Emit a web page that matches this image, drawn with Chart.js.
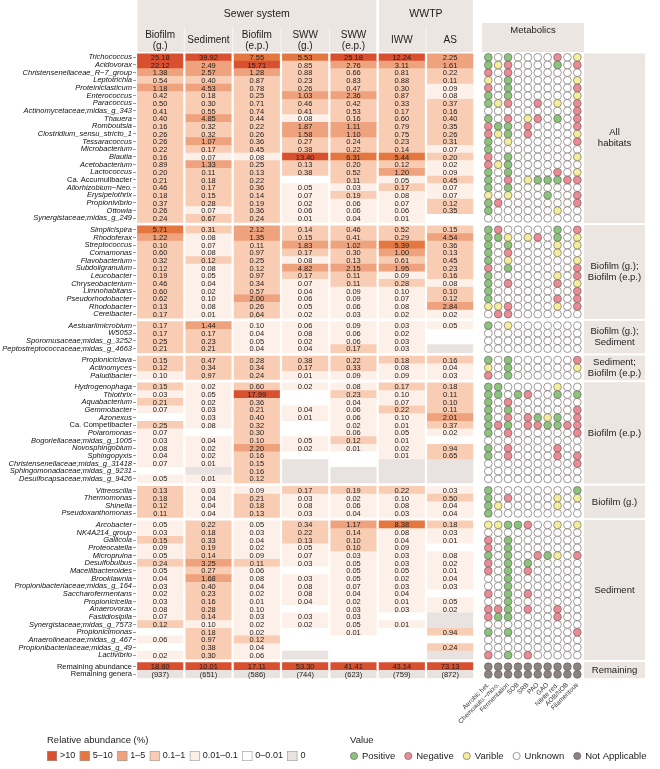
<!DOCTYPE html>
<html><head><meta charset="utf-8">
<script src="https://cdn.jsdelivr.net/npm/chart.js@4.4.1/dist/chart.umd.min.js"></script>
<style>html,body{margin:0;padding:0;background:#fff;}canvas{display:block;}</style>
</head><body><canvas id="c" width="660" height="769"></canvas>
<script>
// ---------------- DATA ----------------
const columns = ['Biofilm\n(g.)','Sediment','Biofilm\n(e.p.)','SWW\n(g.)','SWW\n(e.p.)','IWW','AS'];
const habitats = [{label:'Sewer system', first:0, last:4},{label:'WWTP', first:5, last:6}];
const groupLabels = ['All\nhabitats','Biofilm (g.);\nBiofilm (e.p.)','Biofilm (g.);\nSediment','Sediment;\nBiofilm (e.p.)','Biofilm (e.p.)','Biofilm (g.)','Sediment','Remaining'];
const groupSizes = [22,12,4,3,13,4,18,2];
const rowLabels = [
 'Trichococcus','Acidovorax','Christensenellaceae_R\u22127_group','Leptotrichia','Proteiniclasticum','Enterococcus','Paracoccus','Actinomycetaceae;midas_g_343','Thauera','Romboutsia','Clostridium_sensu_stricto_1','Tessaracoccus','Microbacterium','Blautia','Acetobacterium','Lactococcus','Ca. Accumulibacter','Allorhizobium\u2212Neo.','Erysipelothrix','Propionivibrio','Ottowia','Synergistaceae;midas_g_249',
 'Simplicispira','Rhodoferax','Streptococcus','Comamonas','Flavobacterium','Subdoligranulum','Leucobacter','Chryseobacterium','Limnohabitans','Pseudorhodobacter','Rhodobacter','Cereibacter',
 'Aestuariimicrobium','W5053','Sporomusaceae;midas_g_3252','Peptostreptococcaceae;midas_g_4663',
 'Propioniciclava','Actinomyces','Paludibacter',
 'Hydrogenophaga','Thiothrix','Aquabacterium','Gemmobacter','Azonexus','Ca. Competibacter','Polaromonas','Bogoriellaceae;midas_g_1005','Novosphingobium','Sphingopyxis','Christensenellaceae;midas_g_31418','Sphingomonadaceae;midas_g_9231','Desulfocapsaceae;midas_g_9426',
 'Vitreoscilla','Thermomonas','Shinella','Pseudoxanthomonas',
 'Arcobacter','NK4A214_group','Gallicola','Proteocatella','Micropruina','Desulfobulbus','Macellibacteroides','Brooklawnia','Propionibacteriaceae;midas_g_164','Saccharofermentans','Propionicicella','Anaerovorax','Fastidiosipila','Synergistaceae;midas_g_7573','Propionicimonas','Anaerolineaceae;midas_g_467','Propionibacteriaceae;midas_g_49','Lactivibrio',
 'Remaining abundance','Remaining genera'];
const uprightLabels = ['Ca. Accumulibacter','Ca. Competibacter','Remaining abundance','Remaining genera'];

// relative abundance (%) per column; 0 = absent, 0.004 = present but < 0.01
const biofilmG = [25.18,22.12,1.38,0.54,1.18,0.42,0.50,0.41,0.40,0.16,0.26,0.26,0.22,0.16,0.89,0.20,0.21,0.46,0.18,0.37,0.26,0.24,
 5.71,1.22,0.10,0.60,0.32,0.12,0.19,0.46,0.60,0.62,0.13,0.17,
 0.17,0.17,0.25,0.21,
 0.15,0.12,0.099,
 0.15,0.03,0.21,0.07,0.004,0.25,0.07,0.03,0.08,0.04,0.07,0.004,0.05,
 0.13,0.18,0.12,0.11,
 0.05,0.03,0.15,0.09,0.05,0.24,0.05,0.04,0.03,0.02,0.03,0.08,0.07,0.12,0.004,0.06,0.004,0.02,
 18.80];
const sediment = [39.92,2.49,2.57,0.40,4.53,0.18,0.30,0.55,4.85,0.32,0.32,1.07,0.17,0.07,1.33,0.11,0.18,0.17,0.15,0.28,0.07,0.67,
 0.31,0.08,0.07,0.08,0.12,0.08,0.05,0.04,0.02,0.099,0.08,0.01,
 1.44,0.17,0.23,0.21,
 0.47,0.34,0.97,
 0.02,0.05,0.02,0.03,0.03,0.08,0.004,0.04,0.02,0.02,0.01,0,0.01,
 0.03,0.04,0.04,0.04,
 0.22,0.18,0.33,0.19,0.14,3.25,0.27,1.68,0.40,0.23,0.16,0.28,0.14,0.099,0.18,0.97,0.38,0.30,
 10.01];
const biofilmEP = [7.55,15.71,1.28,0.87,0.78,0.25,0.71,0.74,0.44,0.22,0.26,0.36,0.45,0.08,0.25,0.13,0.22,0.36,0.14,0.19,0.36,0.24,
 2.12,1.35,0.11,0.97,0.25,0.12,0.97,0.34,0.57,2.00,0.26,0.64,
 0.099,0.04,0.05,0.04,
 0.28,0.34,0.24,
 0.60,17.99,0.36,0.21,0.40,0.32,0.30,0.10,2.20,0.16,0.15,0.16,0.12,
 0.09,0.21,0.18,0.13,
 0.05,0.03,0.04,0.02,0.09,0.11,0.06,0.08,0.04,0.02,0.01,0.099,0.03,0.02,0.02,0.12,0.04,0.06,
 17.11];
const swwG = [5.53,0.85,0.88,0.23,0.26,1.03,0.46,0.41,0.08,1.87,1.58,0.27,0.38,13.40,0.13,0.38,0.004,0.05,0.07,0.02,0.06,0.01,
 0.14,0.15,1.83,0.17,0.08,4.82,0.17,0.07,0.04,0.06,0.05,0.02,
 0.06,0.08,0.02,0.04,
 0.38,0.17,0.01,
 0.02,0.004,0.004,0.04,0.01,0.004,0.004,0.05,0.02,0.004,0,0,0,
 0.17,0.03,0.08,0.03,
 0.34,0.22,0.13,0.05,0.07,0.03,0.004,0.03,0.08,0.08,0.04,0.004,0.03,0.02,0.004,0.004,0.004,0,
 53.30];
const swwEP = [25.18,2.76,0.66,0.83,0.47,2.36,0.42,0.53,0.16,1.11,1.10,0.24,0.22,6.31,0.20,0.52,0.11,0.03,0.19,0.06,0.06,0.04,
 0.46,0.41,1.02,0.30,0.13,2.15,0.11,0.11,0.09,0.09,0.06,0.03,
 0.09,0.06,0.06,0.17,
 0.22,0.33,0.09,
 0.08,0.23,0.04,0.06,0.06,0.02,0.06,0.12,0.01,0.004,0.004,0,0,
 0.19,0.02,0.06,0.04,
 1.17,0.14,0.10,0.10,0.03,0.05,0.05,0.05,0.07,0.04,0.02,0.03,0.03,0.05,0.01,0.004,0.004,0.004,
 41.41];
const iww = [12.24,3.11,0.81,0.88,0.30,0.87,0.33,0.17,0.60,0.79,0.75,0.23,0.14,5.44,0.12,1.20,0.05,0.17,0.08,0.07,0.06,0.01,
 0.52,0.29,5.39,1.00,0.61,1.95,0.09,0.28,0.099,0.07,0.08,0.02,
 0.03,0.02,0.03,0.03,
 0.18,0.08,0.09,
 0.17,0.099,0.07,0.22,0.099,0.01,0.05,0.01,0.02,0.01,0,0,0,
 0.22,0.099,0.08,0.03,
 8.38,0.08,0.04,0.09,0.03,0.03,0.05,0.02,0.03,0.04,0.01,0.03,0.004,0.01,0.004,0.004,0.004,0.004,
 43.14];
const as = [2.25,1.61,0.22,0.11,0.09,0.08,0.37,0.16,0.40,0.35,0.26,0.31,0.07,0.20,0.02,0.09,0.45,0.07,0.07,0.12,0.35,0.004,
 0.15,4.54,0.36,0.13,0.45,0.23,0.16,0.08,0.10,0.12,2.84,0.02,
 0.05,0.004,0.004,0,
 0.16,0.04,0.03,
 0.18,0.11,0.10,0.11,2.01,0.37,0.02,0.004,0.94,0.65,0,0,0,
 0.03,0.50,0.04,0.04,
 0.18,0.03,0.01,0.004,0.08,0.02,0.01,0.04,0.03,0.004,0.05,0.02,0,0,0.94,0.004,0.24,0,
 73.13];
const remainingGenera = [937,651,586,744,623,759,872];
const columnValues = [biofilmG, sediment, biofilmEP, swwG, swwEP, iww, as];

const metabolicNames = ['Aerobic het.','Chemoauto.\u2212mixo.','Fermentation','SOB','SRB','PAO','GAO','Nitrite red.','AOB/NOB','Filamentous'];
// G positive, R negative, Y varible, W unknown, N not applicable
const metabolics = [
 'GWGWWWWRWY','GYRWWWWGWR','RWRWWWWWWW','YWGWWWWWWY','RWGWWWWWWR','GWGWWWWWWY','GYRWWRWYWR','WWWWWWWWWR','GWRWYRWGWR','RGGWRWWWWR',
 'RYGWRWWWWY','GWYWWWWWWR','GWWWWWWWWW','RWGWWWWWWY','RYGWWWWWWW','GWGWWWWRWY','GWRWYGGGRR','GWGWWWWWWW','YWYWWWGWWR','GRWWWWWWWR',
 'GWWWWWWYWW','WWWWWWWWWW',
 'GRWWWWWGWR','GGYWYRWGWY','GWGWWWWYWY','GWRWWWWYWW','GWYWWWWWWY','RWGWWWWWWR','GWWWWWWYWR','GWRWWWWRWY','GWWWWWWWWR','GWWWWWWRWR',
 'YYRWWWWYWR','WRRWWWWWWW',
 'GWYWWWWWWW','WWWWWWWWWW','WWWWWWWWWW','WWWWWWWWWW',
 'GWGWWWWWWR','YWGWWWWWWY','RWGWWWWWWW',
 'GGWWWWWYWW','GGWGRWWGWG','GWRWWWWWWW','GWGWWWWWWR','GWRWRGYGWR','GRGWRRGGRR','GWRWWWWWWR','WWWWWWWWWW','GWRWWWWRWW','GWRWWWWRWR',
 'WWWWWWWWWR','WWWWWWWWWW','WWWWWWWWWW',
 'GWWWWWWWWG','GWRWWWWYWY','GYWWWWWYWW','GWWWWWWWWW',
 'YYGGRWWYWY','WWWWWWWWWW','RWGWWWWWWW','RWGWWWWWWW','GWGWWRGYWR','RWGWGWWWWW','RWGWRWWWWW','WWGWWWWWWW','WWGWWWWWWW','RWGWRWWWWW',
 'WWGWWWWWWW','RRGWRWWRWW','RGGWWWWRWW','WWWWWWWWWW','GWGWWWWWWR','WWWWWWWWWW','WWWWWWWWWW','RWGWRWWWWW',
 'NNNNNNNNNN','NNNNNNNNNN'];

const abundanceBins = [
 {label:'>10', color:'#d8502f'},{label:'5\u201310', color:'#e4773f'},{label:'1\u20135', color:'#eea27d'},
 {label:'0.1\u20131', color:'#f9cdb4'},{label:'0.01\u20130.1', color:'#fdf0e8'},{label:'0\u20130.01', color:'#ffffff'},{label:'0', color:'#e8e3e0'}];
const valueStatus = [
 {code:'G', label:'Positive', color:'#8dc47d'},{code:'R', label:'Negative', color:'#ea8b95'},{code:'Y', label:'Varible', color:'#f3ee9d'},
 {code:'W', label:'Unknown', color:'#ffffff'},{code:'N', label:'Not Applicable', color:'#8b8481'}];

// ---------------- LAYOUT / STYLE ----------------
const FONT = '"Liberation Sans", Arial, Helvetica, sans-serif';
const W = 660, H = 769;
const PLOT_LEFT = 136, PLOT_RIGHT = 584, PLOT_TOP = 53.5, PLOT_BOTTOM = 678.2;
const COL_PITCH = 48.33, DOT_X0 = 488.3, DOT_PITCH = 9.89;
const HEADER_BG = '#ece6e2';
const GROUP_GAP = 0.5;

function binColor(v){
  if (v === 0) return abundanceBins[6].color;
  if (v < 0.01) return abundanceBins[5].color;
  if (v < 0.1) return abundanceBins[4].color;
  if (v < 1) return abundanceBins[3].color;
  if (v < 5) return abundanceBins[2].color;
  if (v < 10) return abundanceBins[1].color;
  return abundanceBins[0].color;
}

// row positions (index + group gaps)
const rowPos = [];
{ let r = 0; groupSizes.forEach((n,g)=>{ for(let k=0;k<n;k++){ rowPos.push(r + g*GROUP_GAP); r++; } }); }
const yMax = rowPos[rowPos.length-1] + 0.5;

// bar datasets (one per column)
const datasets = [];
columns.forEach((col, c) => {
  const vals = columnValues[c];
  const data = [], colors = [], texts = [];
  rowLabels.forEach((lab, r) => {
    data.push({x:[c+0.03, c+0.97], y:rowPos[r]});
    if (r < vals.length) {
      const v = vals[r];
      colors.push(binColor(v));
      texts.push(v >= 0.01 ? v.toFixed(2) : '');
    } else {
      colors.push(abundanceBins[6].color);
      texts.push('(' + remainingGenera[c] + ')');
    }
  });
  datasets.push({type:'bar', label:col, indexAxis:'y', xAxisID:'x', yAxisID:'y', data, backgroundColor:colors,
    borderWidth:0, barThickness:8, barPercentage:1, categoryPercentage:1, grouped:false, cellTexts:texts});
});
// dot datasets (one per status)
valueStatus.forEach(st => {
  const data = [];
  metabolics.forEach((code, r) => { for (let j=0;j<code.length;j++) if (code[j]===st.code) data.push({x:j, y:rowPos[r]}); });
  datasets.push({type:'scatter', label:st.label, xAxisID:'x2', yAxisID:'y', data, showLine:false,
    pointRadius:3.9, pointHoverRadius:3.9, pointBackgroundColor:st.color, pointBorderColor:'#5f5855', pointBorderWidth:0.6, clip:false});
});

// ---------------- PLUGINS ----------------
const cellText = {
  id:'cellText',
  afterDatasetsDraw(chart){
    const ctx = chart.ctx; ctx.save();
    ctx.font = '7.5px ' + FONT; ctx.textAlign = 'center'; ctx.textBaseline = 'middle'; ctx.fillStyle = '#1c1c1c';
    chart.data.datasets.forEach((ds, di) => {
      if (!ds.cellTexts) return;
      chart.getDatasetMeta(di).data.forEach((el, i) => {
        const t = ds.cellTexts[i]; if (!t) return;
        ctx.fillText(t, (el.x + el.base)/2, el.y + 0.5);
      });
    });
    ctx.restore();
  }
};

const decor = {
  id:'decor',
  beforeDatasetsDraw(chart){
    const ctx = chart.ctx, xs = chart.scales.x, ys = chart.scales.y, ca = chart.chartArea;
    ctx.save();
    ctx.fillStyle = HEADER_BG;
    habitats.forEach(h => {
      const x0 = xs.getPixelForValue(h.first + 0.03), x1 = xs.getPixelForValue(h.last + 0.97);
      ctx.fillRect(x0, 0, x1 - x0, 52);
    });
    ctx.fillStyle = '#f8f5f3';
    columns.forEach((c, i) => {
      if (i === 0 || i === 5) return;
      const x = xs.getPixelForValue(i);
      ctx.fillRect(x - 0.5, 27, 1, 25);
    });
    ctx.fillStyle = HEADER_BG;
    ctx.fillRect(482, 23, ca.right - 482, 29);
    let start = 0;
    groupSizes.forEach((n, g) => {
      const first = rowPos[start], last = rowPos[start + n - 1];
      const top = g === 0 ? ca.top : ys.getPixelForValue(first - 0.5 - GROUP_GAP/2) + 1;
      const bot = g === groupSizes.length - 1 ? ca.bottom : ys.getPixelForValue(last + 0.5 + GROUP_GAP/2) - 1;
      ctx.fillStyle = HEADER_BG;
      ctx.fillRect(ca.right, top, 645 - ca.right, bot - top);
      start += n;
    });
    ctx.restore();
  },
  afterDraw(chart){
    const ctx = chart.ctx, xs = chart.scales.x, ys = chart.scales.y, ca = chart.chartArea;
    ctx.save();
    ctx.fillStyle = '#1c1c1c'; ctx.textAlign = 'center'; ctx.textBaseline = 'middle';
    ctx.font = '10.5px ' + FONT;
    habitats.forEach(h => {
      const x0 = xs.getPixelForValue(h.first), x1 = xs.getPixelForValue(h.last + 1);
      ctx.fillText(h.label, (x0 + x1)/2, 14);
    });
    ctx.font = '10px ' + FONT;
    columns.forEach((c, i) => {
      const x = xs.getPixelForValue(i + 0.5);
      const lines = c.split('\n');
      if (lines.length === 2) { ctx.fillText(lines[0], x, 35); ctx.fillText(lines[1], x, 46); }
      else ctx.fillText(lines[0], x, 40.5);
    });
    ctx.font = '9.5px ' + FONT;
    ctx.fillText('Metabolics', (482 + ca.right)/2, 30);
    let start = 0;
    groupSizes.forEach((n, g) => {
      const first = rowPos[start], last = rowPos[start + n - 1];
      const yMid = (ys.getPixelForValue(first - 0.5) + ys.getPixelForValue(last + 0.5))/2;
      const lines = groupLabels[g].split('\n');
      const lh = 10.5;
      lines.forEach((l, k) => ctx.fillText(l, (ca.right + 645)/2, yMid + (k - (lines.length-1)/2)*lh));
      start += n;
    });
    // legends
    ctx.textAlign = 'left'; ctx.font = '9.5px ' + FONT; ctx.fillStyle = '#1c1c1c';
    const titleY = 740, rowY = 756;
    let x = 47;
    ctx.fillText('Relative abundance (%)', x, titleY);
    ctx.font = '9px ' + FONT;
    abundanceBins.forEach(b => {
      ctx.fillStyle = b.color; ctx.fillRect(x, rowY - 5, 10, 10);
      ctx.strokeStyle = '#a09996'; ctx.lineWidth = 0.6; ctx.strokeRect(x + 0.3, rowY - 4.7, 9.4, 9.4);
      ctx.fillStyle = '#1c1c1c'; ctx.fillText(b.label, x + 13, rowY);
      x += 13 + ctx.measureText(b.label).width + 4.5;
    });
    x = 350;
    ctx.font = '9.5px ' + FONT;
    ctx.fillText('Value', x, titleY);
    valueStatus.forEach(s => {
      ctx.beginPath(); ctx.arc(x + 4, rowY, 3.6, 0, Math.PI*2);
      ctx.fillStyle = s.color; ctx.fill(); ctx.strokeStyle = '#5f5855'; ctx.lineWidth = 0.6; ctx.stroke();
      ctx.fillStyle = '#1c1c1c'; ctx.fillText(s.label, x + 12, rowY);
      x += 12 + ctx.measureText(s.label).width + 9;
    });
    ctx.restore();
  }
};

// ---------------- CHART ----------------
const x2min = -(DOT_X0 - PLOT_LEFT)/DOT_PITCH;
const x2max = x2min + (PLOT_RIGHT - PLOT_LEFT)/DOT_PITCH;

new Chart(document.getElementById('c'), {
  type:'bar',
  data:{ labels: rowLabels, datasets },
  options:{
    responsive:false, devicePixelRatio:1, animation:false,
    layout:{ autoPadding:false, padding:{ left:0, right: W - PLOT_RIGHT, top: PLOT_TOP, bottom: H - PLOT_BOTTOM - 90 } },
    plugins:{ legend:{display:false}, tooltip:{enabled:false}, title:{display:false} },
    scales:{
      x:{ type:'linear', display:false, offset:false, grid:{offset:false}, min:0, max:(PLOT_RIGHT - PLOT_LEFT)/COL_PITCH },
      x2:{ type:'linear', position:'bottom', offset:false, min:x2min, max:x2max,
        grid:{display:false, drawTicks:false, offset:false}, border:{display:false},
        afterBuildTicks: s => { s.ticks = metabolicNames.map((n,i)=>({value:i})); },
        afterFit: s => { s.height = 90; },
        ticks:{ autoSkip:false, minRotation:45, maxRotation:45, padding:3, color:'#333',
          font:{family:FONT, size:6.5}, callback:(v,i)=>metabolicNames[i] } },
      y:{ type:'linear', position:'left', reverse:true, offset:false, min:-0.5, max:yMax,
        afterBuildTicks: s => { s.ticks = rowPos.map(v=>({value:v})); },
        afterFit: s => { s.width = PLOT_LEFT; },
        grid:{ drawOnChartArea:false, drawTicks:true, tickLength:3, tickColor:'#555', tickWidth:0.6, offset:false },
        border:{display:false},
        ticks:{ autoSkip:false, padding:1, color:'#111',
          font: ctx => ({family:FONT, size:7.5, style: uprightLabels.includes(rowLabels[ctx.index]) ? 'normal' : 'italic'}),
          callback:(v,i)=>rowLabels[i] } }
    }
  },
  plugins:[decor, cellText]
});
</script>
</body></html>
